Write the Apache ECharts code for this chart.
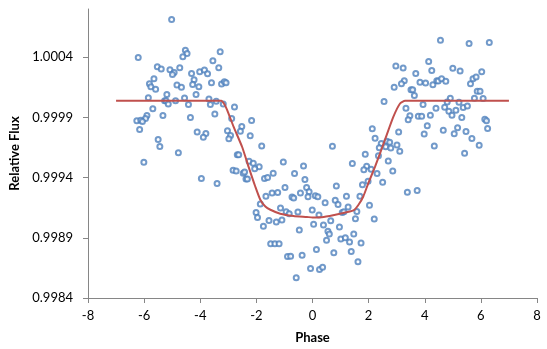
<!DOCTYPE html>
<html>
<head>
<meta charset="utf-8">
<script src="https://cdn.jsdelivr.net/npm/echarts@6/dist/echarts.min.js"></script>
<style>
  html, body { margin: 0; padding: 0; background: #fff; }
  #chart { width: 547px; height: 349px; }
</style>
</head>
<body>
<div id="chart"></div>
<script>
// Observed photometry: orbital phase vs. relative flux
const phase = [
  -5.02, -6.21, -4.53, -4.47, -4.62, -3.29, -3.55, -3.34, -5.53, -5.39,
  -5.08, -4.93, -4.99, -4.73, -4.31, -4.02, -3.85, -3.74, -5.65, -4.22,
  -5.81, -5.76, -5.59, -4.83, -4.67, -4.27, -4.05, -3.60, -3.24, -3.14,
  -3.08, -5.19, -4.15, -5.85, -5.27, -5.22, -5.14, -4.88, -4.56, -4.42,
  -3.69, -3.64, -3.43, -3.18, -5.69, -5.90, -5.95, -5.33, -4.35, -3.48,
  -2.78, -2.88, -6.26, -6.12, -6.06, -6.16, -4.11, -3.80, -3.89, -3.03,
  -2.92, -2.98, -2.52, -2.57, -2.17, -5.50, -5.44, -2.22, -1.81, -2.68,
  -2.63, -2.26, -2.11, -1.90, -1.04, -0.32, -6.01, -4.78, -3.96, -3.40,
  -2.83, -2.72, -2.47, -2.42, -2.37, -2.32,
  -2.06, -1.40, -1.71, -1.60, -0.98, -1.66, -1.44, -1.24, -1.86, -2.01,
  -1.96, -1.75, -1.55, -1.29, -1.14, -1.09, -0.94, -0.83, -0.52, -0.64,
  -0.27, -0.21, -0.12, -0.73, -0.67, -0.43, -0.16, 0.10, 0.19, -0.01,
  0.23, -0.47, -1.49, -1.34, -1.19, -0.89, -0.78, -0.37, 0.14, -0.07,
  0.25, -0.58, 0.04, 0.36, 0.45, 0.39, 0.65, 0.55, 0.60, 0.50,
  0.76, 0.96, 0.81, 0.91, 0.85, 1.21, 1.06, 1.12, 1.27, 1.58,
  1.53, 1.01, 1.17, 1.32, 1.47, 1.73, 1.38, 1.62, 1.42, 1.88,
  1.93, 1.83, 2.09, 1.78, 1.98, 1.69, 2.03, 2.20, 0.71,
  2.30, 2.50, 2.35, 2.70, 2.86, 3.38, 3.73, 4.34, 5.42, 5.94,
  4.56, 5.58, 6.30, 4.14, 2.97, 3.23, 4.25, 5.00, 5.26, 6.03,
  3.68, 3.27, 3.17, 2.91, 3.51, 3.57, 3.83, 4.03, 4.29, 4.43,
  4.48, 4.60, 4.75, 5.63, 5.72, 5.83, 5.87, 5.97, 3.63, 2.55,
  4.91, 4.80, 5.22, 5.77, 6.08, 3.94, 3.33, 4.40, 4.71, 5.11,
  4.86, 5.37, 5.52, 3.47, 3.41, 3.77, 3.89, 4.20, 4.97, 5.32,
  6.14, 6.20, 4.09, 3.98, 4.66, 5.17, 5.05, 5.47, 6.24, 3.07,
  5.68, 2.23, 2.45, 2.65, 2.75, 2.61, 2.79, 3.01, 2.38, 3.11,
  2.13
];
const flux = [
  1.000712, 1.000398, 1.000457, 1.000430, 1.000403, 1.000444, 1.000370, 1.000312, 1.000320, 1.000301,
  1.000296, 1.000273, 1.000257, 1.000312, 1.000265, 1.000279, 1.000293, 1.000262, 1.000221, 1.000213,
  1.000180, 1.000155, 1.000133, 1.000169, 1.000150, 1.000174, 1.000155, 1.000188, 1.000177, 1.000196,
  1.000188, 1.000089, 1.000089, 1.000064, 1.000039, 1.000039, 1.000012, 1.000039, 1.000061, 1.000006,
  1.000053, 1.000006, 1.000034, 1.000012, 0.999971, 0.999916, 0.999891, 0.999916, 0.999899, 0.999929,
  0.999987, 0.999891, 0.999871, 0.999877, 0.999866, 0.999800, 0.999778, 0.999767, 0.999734, 0.999789,
  0.999750, 0.999723, 0.999825, 0.999784, 0.999874, 0.999717, 0.999659, 0.999747, 0.999662, 0.999590,
  0.999590, 0.999536, 0.999519, 0.999491, 0.999530, 0.999497, 0.999527, 0.999607, 0.999392, 0.999350,
  0.999461, 0.999455, 0.999436, 0.999447, 0.999389, 0.999389,
  0.999474, 0.999437, 0.999392, 0.999400, 0.999317, 0.999246, 0.999271, 0.999276, 0.999180, 0.999111,
  0.999069, 0.998995, 0.999043, 0.999031, 0.999147, 0.999048, 0.999117, 0.999100, 0.999114, 0.999433,
  0.999384, 0.999317, 0.999282, 0.999238, 0.999230, 0.999271, 0.999240, 0.999249, 0.999240, 0.999131,
  0.999089, 0.998965, 0.998851, 0.998851, 0.998851, 0.998745, 0.998747, 0.998755, 0.998803, 0.998646,
  0.998637, 0.998569, 0.999012, 0.998656, 0.999191, 0.999007, 0.999042, 0.998954, 0.998932, 0.998880,
  0.998776, 0.998990, 0.999212, 0.999176, 0.999331, 0.999246, 0.999111, 0.999117, 0.999155, 0.999119,
  0.999059, 0.998891, 0.998901, 0.998865, 0.998932, 0.998857, 0.998786, 0.998701, 0.999516, 0.999593,
  0.999494, 0.999466, 0.999469, 0.999340, 0.999370, 0.999246, 0.999171, 0.999056, 0.999660,
  0.999433, 0.999362, 0.999582, 0.999538, 0.999455, 0.999279, 0.999293, 0.999662, 0.999602, 0.999668,
  1.000541, 1.000513, 1.000521, 1.000364, 1.000326, 1.000309, 1.000290, 1.000307, 1.000285, 1.000279,
  1.000265, 1.000205, 1.000180, 1.000150, 1.000130, 1.000130, 1.000191, 1.000185, 1.000171, 1.000205,
  1.000202, 1.000221, 1.000199, 1.000180, 1.000221, 1.000235, 1.000117, 1.000117, 1.000081, 1.000031,
  1.000059, 1.000028, 1.000026, 1.000059, 1.000056, 1.000006, 0.999976, 0.999976, 0.999984, 0.999960,
  0.999951, 0.999982, 0.999995, 0.999913, 0.999880, 0.999910, 0.999910, 0.999918, 0.999918, 0.999899,
  0.999885, 0.999871, 0.999830, 0.999761, 0.999794, 0.999813, 0.999763, 0.999783, 0.999808, 0.999778,
  0.999725, 0.999726, 0.999684, 0.999701, 0.999693, 0.999656, 0.999645, 0.999670, 0.999648, 0.999618,
  0.999805
];

// Transit model curve
const modelPhase = [
  -7.0, -3.25, -3.14, -3.04, -2.81, -2.51, -2.28, -2.04, -1.86, -1.68,
  -1.50, -1.15, -0.68, -0.20, 0.0, 0.40, 0.98, 1.46, 1.64, 1.81,
  1.99, 2.23, 2.58, 2.88, 3.12, 3.30, 7.0
];
const modelFlux = [
  1.000038, 1.000038, 1.000009, 0.999960, 0.999821, 0.999656, 0.999491, 0.999326, 0.999216, 0.999160,
  0.999133, 0.999100, 0.999081, 0.999073, 0.999069, 0.999073, 0.999100, 0.999127, 0.999174, 0.999243,
  0.999354, 0.999491, 0.999712, 0.999904, 1.000015, 1.000038, 1.000038
];

// Axis ticks
const xTicks = [-8, -6, -4, -2, 0, 2, 4, 6, 8];
const yTicks = [0.9984, 0.9989, 0.9994, 0.9999, 1.0004];

const FONT = 'Lato';
const AXIS_COLOR = '#868686';

const chart = echarts.init(document.getElementById('chart'), null, { renderer: 'canvas' });

chart.setOption({
  animation: false,
  backgroundColor: '#ffffff',
  grid: { left: 88, right: 10, top: 9, bottom: 50, containLabel: false },
  xAxis: {
    type: 'value',
    min: xTicks[0],
    max: xTicks[xTicks.length - 1],
    interval: 2,
    name: 'Phase',
    nameLocation: 'middle',
    nameGap: 33,
    nameTextStyle: { fontFamily: FONT, fontSize: 13, fontWeight: 'bold', color: '#000' },
    axisLine: { onZero: false, lineStyle: { color: AXIS_COLOR, width: 1 } },
    axisTick: { show: true, inside: false, length: 5, lineStyle: { color: AXIS_COLOR } },
    axisLabel: { fontFamily: FONT, fontSize: 13, color: '#000', margin: 11 },
    splitLine: { show: false }
  },
  yAxis: {
    type: 'value',
    min: 0.9984,
    max: 1.0008,
    name: 'Relative Flux',
    nameLocation: 'middle',
    nameGap: 63,
    nameRotate: 90,
    nameTextStyle: { fontFamily: FONT, fontSize: 13, fontWeight: 'bold', color: '#000' },
    axisLine: { show: true, onZero: false, lineStyle: { color: AXIS_COLOR, width: 1 } },
    axisTick: { show: true, inside: false, length: 5, lineStyle: { color: AXIS_COLOR }, customValues: yTicks },
    axisLabel: {
      fontFamily: FONT, fontSize: 13, color: '#000', margin: 15,
      customValues: yTicks,
      formatter: v => v.toFixed(4)
    },
    splitLine: { show: false }
  },
  series: [
    {
      type: 'scatter',
      data: phase.map((p, i) => [p, flux[i]]),
      symbol: 'emptyCircle',
      symbolSize: 5,
      itemStyle: { color: '#4F81BD', borderColor: '#4F81BD', borderWidth: 0.9 },
      z: 2
    },
    {
      type: 'line',
      data: modelPhase.map((p, i) => [p, modelFlux[i]]),
      showSymbol: false,
      smooth: 0.2,
      lineStyle: { color: '#C0504D', width: 2 },
      z: 3
    }
  ]
});
</script>
</body>
</html>
